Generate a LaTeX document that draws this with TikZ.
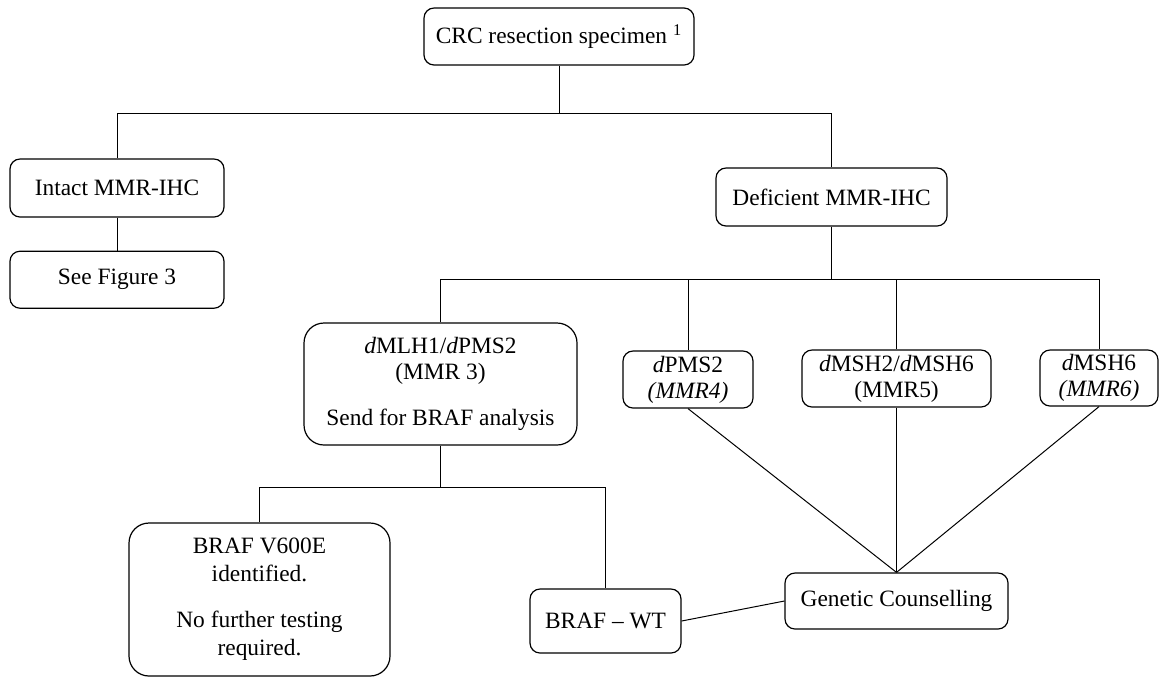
\documentclass[tikz,border=0pt]{standalone}
\usepackage{fontspec}
\setmainfont{Liberation Serif}
\usepackage{tikz}
\usetikzlibrary{positioning}

\begin{document}
\begin{tikzpicture}[x=0.5pt, y=-0.5pt,
    every text node part/.style={align=center},
    box/.style={draw=black, line width=0.6pt, rounded corners=5pt, inner sep=2pt,
      font=\fontsize{11.7}{13}\selectfont},
    bigbox/.style={box, rounded corners=10pt},
    link/.style={draw=black, line width=0.5pt}]
  \useasboundingbox (0,0) rectangle (1159,677);

  \node[box, minimum width=135pt, minimum height=28.5pt] (crc)    at (559,36.5)   {CRC resection specimen \textsuperscript{1}};
  \node[box, minimum width=107pt, minimum height=29pt]   (intact) at (117,188)    {Intact MMR-IHC};
  \node[box, minimum width=107pt, minimum height=28.5pt, node distance=16.5pt, below=of intact] (fig3) {See Figure 3};
  \node[box, minimum width=115.5pt, minimum height=29pt] (defic)  at (831.5,197)  {Deficient MMR-IHC};

  \node[bigbox, minimum width=136.5pt, minimum height=61pt] (mlh) at (440.5,384)
    {\textit{d}MLH1/\textit{d}PMS2\\(MMR 3)\\[10pt]Send for BRAF analysis};
  \node[box, minimum width=65pt, minimum height=28.5pt]   (pms)   at (688,379.5)  {\textit{d}PMS2\\\textit{(MMR4)}};
  \node[box, minimum width=94.5pt, minimum height=28.5pt] (msh26) at (896.5,378.5) {\textit{d}MSH2/\textit{d}MSH6\\(MMR5)};
  \node[box, minimum width=59pt, minimum height=28pt]     (msh6)  at (1099,378)   {\textit{d}MSH6\\\textit{(MMR6)}};

  \node[bigbox, minimum width=130.5pt, minimum height=76.5pt, font=\fontsize{11.7}{14}\selectfont] (v600) at (259.5,599.5)
    {BRAF V600E\\identified.\\[9pt]No further testing\\required.};
  \node[box, minimum width=75.5pt, minimum height=32pt]  (wt) at (605.5,621)  {BRAF -- WT};
  \node[box, minimum width=111.5pt, minimum height=28pt] (gc) at (896.5,601)  {Genetic Counselling};

  % tree joints
  \coordinate (j1) at (559,113);
  \coordinate (j2) at (831.5,279);
  \coordinate (j3) at (440.5,487);

  \draw[link] (crc) -- (j1) -| (intact);
  \draw[link] (j1) -| (defic);
  \draw[link] (intact) -- (fig3);

  \draw[link] (defic) -- (j2) -| (mlh);
  \draw[link] (j2) -| (msh6);
  \draw[link] (j2 -| pms.north) -- (pms);
  \draw[link] (j2 -| msh26.north) -- (msh26);

  \draw[link] (mlh) -- (j3) -| (v600);
  \draw[link] (j3) -| (wt);

  \path[link]
  (pms.south)   edge (gc.north)
  (msh26.south) edge (gc.north)
  (msh6.south)  edge (gc.north)
  (wt.east)     edge (gc.west);
\end{tikzpicture}
\end{document}
